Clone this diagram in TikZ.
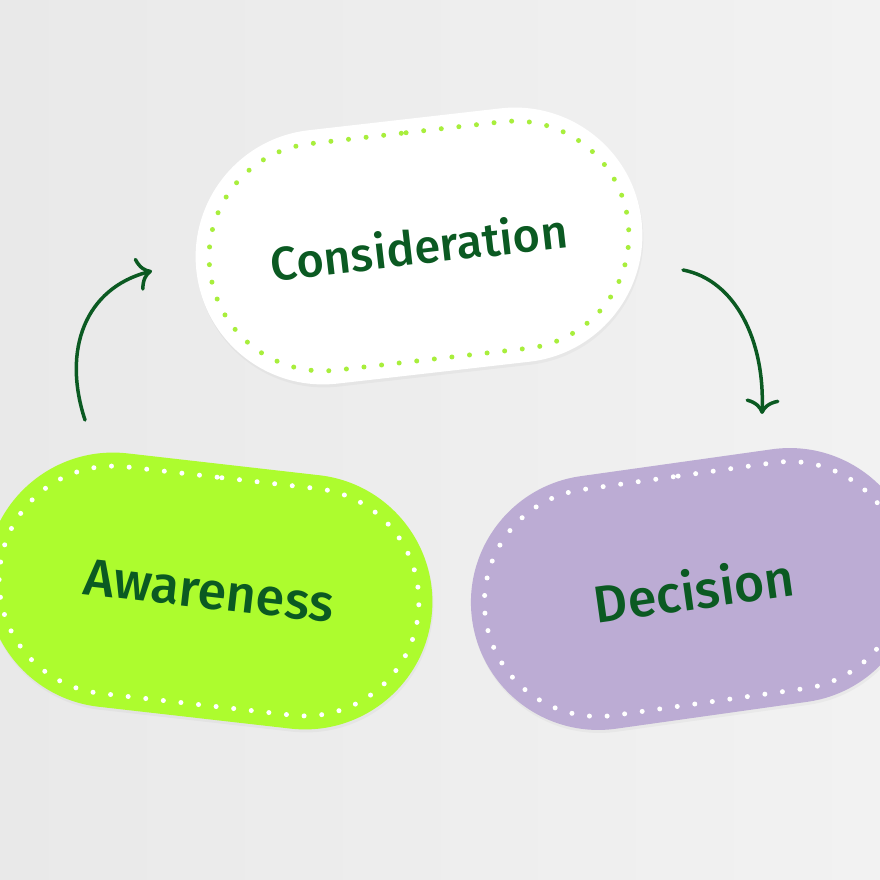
\documentclass[tikz,border=0pt]{standalone}
\usepackage{fontspec}
\setmainfont{Fira Sans}
\newfontfamily\stagefont{Fira Sans Medium}
\usetikzlibrary{shapes.misc,arrows.meta,shadows}
\definecolor{bggray}{HTML}{E9E9E9}
\definecolor{bglight}{HTML}{F2F2F2}
\definecolor{leaf}{HTML}{0B5A22}
\definecolor{lime}{HTML}{ADFC2E}
\definecolor{lilac}{HTML}{BCACD4}
\definecolor{limedot}{HTML}{A8EE3C}

\begin{document}
\begin{tikzpicture}[x=1pt,y=1pt,
  pill/.style={rounded rectangle, minimum width=448pt, minimum height=255pt,
    inner sep=0pt, text=leaf, font=\stagefont\fontsize{47}{50}\selectfont,
    drop shadow={opacity=0.07,shadow xshift=1pt,shadow yshift=-3pt}},
  bigtext/.style={font=\stagefont\fontsize{52}{55}\selectfont},
  ring/.style={rounded rectangle, minimum width=421pt, minimum height=228pt,
    inner sep=0pt, line width=5pt, line cap=round, dash pattern=on 0pt off 17.7pt},
  flow/.style={leaf, line width=3.5pt, line cap=round,
    -{Computer Modern Rightarrow[length=15pt,width=34pt]}}]
  \useasboundingbox (0,0) rectangle (880,880);
  \clip (0,0) rectangle (880,880);
  \shade[left color=bggray, right color=bglight] (0,0) rectangle (880,880);

  % the three stages
  \node[pill, fill=white, rotate=6.5] (consid) at (419,634) {Consideration};
  \node[ring, draw=limedot, rotate=6.5] at (consid.center) {};
  \node[pill, bigtext, fill=lime, rotate=-6.5] (aware) at (209,289) {Awareness};
  \node[ring, draw=white, rotate=-6.5] at (aware.center) {};
  \node[pill, bigtext, fill=lilac, rotate=8] (decide) at (694,291) {Decision};
  \node[ring, draw=white, rotate=8] at (decide.center) {};

  % curved arrows
  \coordinate (upstart) at (85,460);
  \coordinate (uptip) at (152,609);
  \coordinate (downstart) at (683,610);
  \coordinate (downtip) at (762,466);
  \draw[flow] (upstart) .. controls (62,530) and (85,592) .. (uptip);
  \draw[flow] (downstart) .. controls (735,600) and (765,540) .. (downtip);
\end{tikzpicture}
\end{document}
